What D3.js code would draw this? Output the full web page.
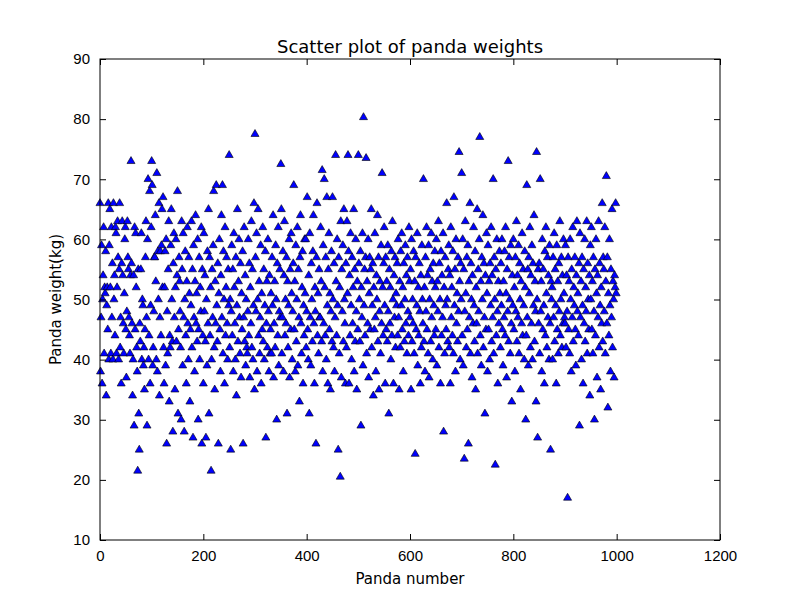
<!DOCTYPE html>
<html><head><meta charset="utf-8">
<script src="https://cdn.jsdelivr.net/npm/d3@7"></script>
<style>body{margin:0;background:#fff}svg{font-family:"DejaVu Sans",sans-serif}</style>
</head><body><svg id="c" width="800" height="600"></svg>
<script>
const weights = [
66,38,47,59,36,50,54,62,41,52,51,58,34,49,52,45,66,40,59,65,52,41,62,47,56,
40,66,50,54,44,62,61,41,52,63,57,40,55,66,42,47,36,56,63,54,46,41,51,60,62,
45,37,48,63,57,55,47,44,41,54,73,56,46,34,40,54,29,62,45,61,52,42,38,21.5,55,
31,25,46,43,55,61,40,50,49,39,42,35,45,57,63,47,29,60,70,40,44,68,36,49,62,
73,69,39,42,48,57,57,64,53,40,71,38,58,50,66,34,47,58,44,59,65,52,67,42,36,
52,58,39,60,26,48,41,55,63,33,44,42,59,65,50,43,28,56,61,47,35,52,60,43,54,
68,31,45,57,53,48,42,30,63,55,39,61,47,28,50,58,44,36,53,62,46,40,57,51,33,
45,49,63,42,55,27,59,47,38,53,64,46,51,43,60,30,45,57,40,52,48,62,26,55,44,
36,61,48,54,43,27,50,39,58,46,65,31,57,44,52,21.5,40,55,47,59,68,42,35,53,46,
69,49,43,56,26,51,60,45,38,54,64,47,69,41,58,50,36,62,44,52,57,46,40,55,49,
74,42,50,25,48,59,44,55,38,61,52,46,40,57,34,49,65,43,53,60,47,41,56,37,51,
45,58,26,47,62,43,54,39,50,42,41,48,60,44,56,37,52,46,63,42,55,40,49,66,35,
77.5,57,48,61,38,50,65,44,53,41,47,59,36,51,45,62,43,55,40,49,58,27,46,53,42,
60,48,38,54,41,45,51,41,57,49,64,37,46,53,42,59,50,30,56,44,62,39,48,55,47,
72.5,65,41,47,58,38,54,63,44,50,46,57,31,53,42,49,60,37,55,45,61,51,40,48,56,
69,45,53,38,59,43,50,62,39,55,47,33,57,64,46,41,52,58,36,49,44,60,51,60,42,
48,67,45,40,54,31,61,47,39,56,50,43,58,64,46,36,52,48,26,57,66,44,51,41,55,
47,47,62,53,43,71.5,38,59,46,70,52,44,57,40,67,49,36,55,61,45,51,35,48,58,43,
67,50,42,56,38,47,74,53,44,60,49,25,57,41,52,20.5,63,37,55,48,59,43,65,50,46,
36,56,42,63,51,74,58,36,54,44,61,49,40,57,46,52,65,38,55,43,60,48,35,53,45,
74,56,50,43,58,29,52,47,61,39,80.3,49,55,44,57,73.5,41,53,46,60,37,51,57,45,55,
65,42,49,56,34,52,45,61,47,38,54,50,64,43,57,35,48,53,41,59,46,71,52,44,56,
62,49,36,57,45,53,43,59,48,31,55,46,52,40,58,44,63,50,36,54,47,57,42,51,49,
56,44,60,47,35,53,42,58,49,61,45,52,38,56,43,50,59,46,54,41,57,48,44,62,53,
47,55,35,60,43,50,46,58,41,53,24.3,57,45,49,61,39,52,44,56,48,36,54,42,59,50,
46,70,43,52,38,57,48,62,45,54,41,59,37,50,55,43,61,47,53,40,56,49,44,58,52,
45,60,39,53,48,63,42,56,50,36,58,44,54,47,61,28,52,41,57,49,45,66,50,43,55,
59,42,54,36,62,47,52,44,58,41,67,49,55,38,60,46,51,43,57,48,74.5,53,40,56,50,
71,44,60,39,55,23.5,48,63,51,42,57,45,59,26,53,47,66,41,56,50,37,54,46,62,49,
43,58,35,52,46,65,41,55,48,60,77,44,53,39,57,50,64,42,56,47,31,54,45,61,51,
38,59,45,53,40,56,49,62,43,54,47,70,41,57,50,22.5,55,44,60,48,36,53,46,58,51,
42,56,49,60,45,39,53,47,58,44,62,51,37,55,48,73,43,57,50,41,59,46,33,54,49,
60,45,52,38,57,48,63,43,54,47,59,41,56,50,35,53,46,61,44,55,49,40,58,52,30,
44,69,47,55,39,57,51,62,42,54,46,59,40,56,49,64,43,53,48,33,74.5,50,27,55,46,
56,41,70,48,53,38,60,45,55,49,36,58,44,62,51,42,57,47,54,40,59,46,25,53,50,
52,40,57,47,61,43,55,49,36,59,45,53,41,56,48,63,44,50,57,42,54,46,60,51,47,
46,59,42,54,48,17,57,45,53,41,60,50,38,55,47,62,43,52,49,57,45,39,54,63,48,
51,44,56,29,61,47,53,40,57,49,36,55,46,60,43,52,48,63,41,56,50,45,54,34,59,
50,62,45,53,41,57,48,30,55,44,60,51,37,54,47,63,42,56,49,35,52,46,66,43,57,
55,48,62,41,53,70.5,46,57,32,51,44,60,49,38,55,47,65,42,53,50,37,54,52,66,51
];
const xTicks = [0,200,400,600,800,1000,1200];
const yTicks = [10,20,30,40,50,60,70,80,90];

const L=100,R=720,T=59,B=540;
const svg=d3.select("#c");
const x=d3.scaleLinear().domain([0,1200]).range([L,R]);
const y=d3.scaleLinear().domain([10,90]).range([B,T]);

svg.append("g").selectAll("path").data(weights).join("path")
  .attr("transform",(d,i)=>`translate(${x(i)},${y(d)})`)
  .attr("d",d3.symbol(d3.symbolTriangle,28)())
  .attr("fill","#0000ff").attr("stroke","#000").attr("stroke-width",0.6);

const fmt=d3.format("d");
const ax=(g,axis)=>g.call(axis).call(s=>s.select(".domain").remove())
  .call(s=>s.selectAll("text").attr("font-size",15).attr("fill","#000"));
svg.append("g").attr("transform",`translate(0,${B})`).call(g=>ax(g,d3.axisBottom(x).tickValues(xTicks).tickFormat(fmt).tickSize(-6).tickPadding(10)));
svg.append("g").attr("transform",`translate(0,${T})`).call(g=>g.call(d3.axisTop(x).tickValues(xTicks).tickSize(-6).tickFormat("")).select(".domain").remove());
svg.append("g").attr("transform",`translate(${L},0)`).call(g=>ax(g,d3.axisLeft(y).tickValues(yTicks).tickFormat(fmt).tickSize(-6).tickPadding(10)));
svg.append("g").attr("transform",`translate(${R},0)`).call(g=>g.call(d3.axisRight(y).tickValues(yTicks).tickSize(-6).tickFormat("")).select(".domain").remove());
svg.selectAll(".tick line").attr("stroke","#000");
svg.append("rect").attr("x",L).attr("y",T).attr("width",R-L).attr("height",B-T).attr("fill","none").attr("stroke","#000");

svg.append("text").attr("x",(L+R)/2).attr("y",53).attr("text-anchor","middle").attr("font-size",18).text("Scatter plot of panda weights");
svg.append("text").attr("x",(L+R)/2).attr("y",584).attr("text-anchor","middle").attr("font-size",15).text("Panda number");
svg.append("text").attr("transform",`translate(61,${(T+B)/2}) rotate(-90)`).attr("text-anchor","middle").attr("font-size",15).text("Panda weight(kg)");
</script></body></html>
